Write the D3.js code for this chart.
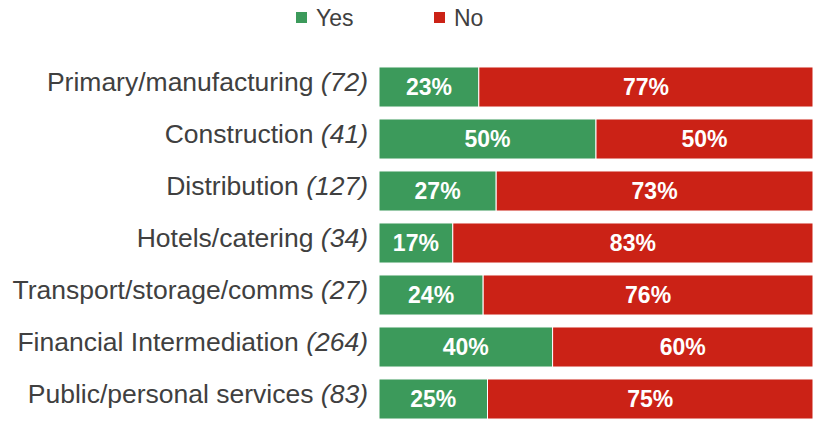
<!DOCTYPE html>
<html>
<head>
<meta charset="utf-8">
<script src="https://cdn.jsdelivr.net/npm/d3@7"></script>
<style>
  html, body { margin: 0; padding: 0; background: #fff; }
  svg { display: block; font-family: "Liberation Sans", Arial, sans-serif; }
</style>
</head>
<body>
<svg id="chart" width="813" height="423"></svg>
<script>
// Sectors and number of respondents in each
const sectors = [
  "Primary/manufacturing",
  "Construction",
  "Distribution",
  "Hotels/catering",
  "Transport/storage/comms",
  "Financial Intermediation",
  "Public/personal services"
];
const respondents = [72, 41, 127, 34, 27, 264, 83];

// Share answering each way (%)
const yesValues = [23, 50, 27, 17, 24, 40, 25];
const noValues  = [77, 50, 73, 83, 76, 60, 75];

const seriesNames = ["Yes", "No"];
const seriesColors = ["#3C9A5B", "#CB2216"];

const svg = d3.select("#chart");

const x = d3.scaleLinear().domain([0, 100]).range([379, 813]);
const y = d3.scaleBand()
  .domain(sectors)
  .range([61, 425])
  .paddingInner(0.23)
  .paddingOuter(0.115);

const color = d3.scaleOrdinal().domain(seriesNames).range(seriesColors);

const rows = sectors.map((s, i) => ({ sector: s, n: respondents[i], Yes: yesValues[i], No: noValues[i] }));
const stacked = d3.stack().keys(seriesNames)(rows);

// Stacked bars
const layers = svg.append("g").selectAll("g")
  .data(stacked)
  .join("g")
  .attr("fill", d => color(d.key));

layers.selectAll("rect")
  .data(d => d)
  .join("rect")
  .attr("x", d => x(d[0]))
  .attr("y", d => y(d.data.sector))
  .attr("width", d => x(d[1]) - x(d[0]))
  .attr("height", y.bandwidth())
  .attr("stroke", "#fff")
  .attr("stroke-width", 1);

// Percentage labels inside segments
layers.selectAll("text")
  .data(d => d.map(v => ({ v, key: d.key })))
  .join("text")
  .attr("x", d => (x(d.v[0]) + x(d.v[1])) / 2)
  .attr("y", d => y(d.v.data.sector) + y.bandwidth() / 2)
  .attr("dy", "0.35em")
  .attr("text-anchor", "middle")
  .attr("fill", "#fff")
  .attr("font-weight", "bold")
  .attr("font-size", 23)
  .text(d => `${d.v.data[d.key]}%`);

// Category labels with respondent counts
const yAxis = svg.append("g");
const lbl = yAxis.selectAll("text")
  .data(rows)
  .join("text")
  .attr("x", 368)
  .attr("y", d => y(d.sector) + y.bandwidth() / 2)
  .attr("dy", "0.15em")
  .attr("text-anchor", "end")
  .attr("fill", "#404040")
  .attr("font-size", 26.5);
lbl.append("tspan").text(d => d.sector + " ");
lbl.append("tspan").attr("font-style", "italic").text(d => `(${d.n})`);

// Legend
const legendX = [296, 434];
const legend = svg.append("g").selectAll("g")
  .data(seriesNames)
  .join("g")
  .attr("transform", (d, i) => `translate(${legendX[i]},12)`);
legend.append("rect")
  .attr("width", 11).attr("height", 11)
  .attr("fill", d => color(d));
legend.append("text")
  .attr("x", 20)
  .attr("y", 14)
  .attr("fill", "#404040")
  .attr("font-size", 23)
  .text(d => d);
</script>
</body>
</html>
